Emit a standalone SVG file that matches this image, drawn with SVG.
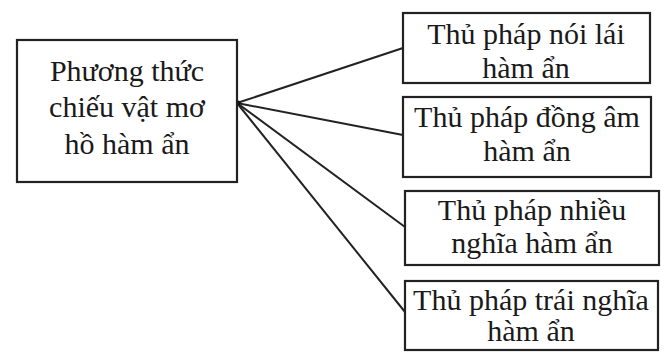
<svg xmlns="http://www.w3.org/2000/svg" width="670" height="352" viewBox="0 0 670 352">
<style>
.box{fill:#fff;stroke:#222;stroke-width:2.2}
.t{font-family:"Liberation Serif","Times New Roman",serif;font-size:30px;fill:#1a1a1a;text-anchor:middle}
.c{stroke:#222;stroke-width:2;fill:none}
</style>
<rect width="670" height="352" fill="#fff"/>
<g id="connectors">
<line class="c" x1="237" y1="103" x2="403" y2="48"/>
<line class="c" x1="237" y1="103" x2="403" y2="135"/>
<line class="c" x1="237" y1="103" x2="405" y2="227"/>
<line class="c" x1="237" y1="103" x2="405" y2="312"/>
<circle cx="238" cy="103" r="2.5" fill="#111"/>
</g>
<g id="root">
<rect class="box" x="17" y="40" width="220" height="142"/>
<text class="t" x="127" y="81">Phương thức</text>
<text class="t" x="127" y="117">chiếu vật mơ</text>
<text class="t" x="127" y="154">hồ hàm ẩn</text>
</g>
<g id="n1">
<rect class="box" x="403" y="13" width="247" height="70"/>
<text class="t" x="526" y="44">Thủ pháp nói lái</text>
<text class="t" x="526" y="78">hàm ẩn</text>
</g>
<g id="n2">
<rect class="box" x="403" y="97" width="248" height="80"/>
<text class="t" x="527" y="127">Thủ pháp đồng âm</text>
<text class="t" x="527" y="161">hàm ẩn</text>
</g>
<g id="n3">
<rect class="box" x="405" y="191" width="254" height="74"/>
<text class="t" x="532" y="220">Thủ pháp nhiều</text>
<text class="t" x="532" y="253">nghĩa hàm ẩn</text>
</g>
<g id="n4">
<rect class="box" x="405" y="281" width="253" height="69"/>
<text class="t" x="531" y="310">Thủ pháp trái nghĩa</text>
<text class="t" x="531" y="341">hàm ẩn</text>
</g>
</svg>
